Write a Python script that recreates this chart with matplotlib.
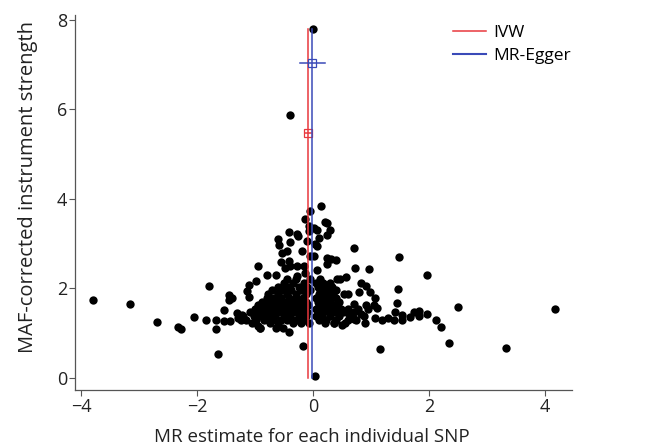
import matplotlib
matplotlib.use('Agg')
import matplotlib.pyplot as plt
from matplotlib.lines import Line2D

plt.rcParams['font.family'] = ['Open Sans', 'DejaVu Sans']

# puntos dispersos (estimacion MR por SNP, fuerza del instrumento)
outer_x = [-3.79, -3.15, -2.69, -2.32, -2.28, -2.06, -1.84, -1.80, -1.68, -1.64,
           -1.67, -1.54, -1.54, -1.45, -1.43, -1.45, -1.39, -1.31, -1.29, -1.25,
           -1.22, -1.14, -1.10, -1.10, -0.94, -0.98, -0.95, -0.92, -0.79, -0.64,
           -0.60, -0.58, -0.53, -0.41, -0.40, -0.44, -0.56, -0.39, -0.28, -0.26,
           -0.19, -0.13, -0.06, -0.07, -0.07, -0.10, -0.17, -0.42, -0.48, -0.42,
           -0.39, -0.28, -0.28, -0.16, -0.13, -0.06, 0.01, 0.07, 0.01, 0.13,
           0.11, 0.04, 0.07, 0.21, 0.24, 0.29, 0.24, 0.24, 0.31, 0.39,
           0.24, 0.07, 0.04, 0.00, 0.71, 0.72, 0.57, 0.46, 0.96, 0.82,
           0.91, 0.79, 0.98, 1.07, 0.54, 0.61, 1.49, 1.97, 1.46, 1.45,
           1.42, 1.53, 1.68, 1.74, 1.83, 1.83, 1.97, 2.12, 2.20, 2.50,
           2.34, 3.32, 4.17, 1.16, 1.19, 1.30, 1.39, 1.53, 1.07, 0.89,
           0.50, 0.36, 1.05, 1.10, 0.91, 0.70, 0.61, 0.82, 0.70]
outer_y = [1.73, 1.65, 1.24, 1.13, 1.09, 1.36, 1.29, 2.05, 1.09, 0.54,
           1.29, 1.51, 1.27, 1.74, 1.27, 1.84, 1.78, 1.44, 1.34, 1.28,
           1.39, 1.94, 2.07, 1.80, 2.50, 2.17, 1.15, 1.12, 2.29, 2.29,
           3.09, 2.96, 2.79, 3.26, 3.03, 2.83, 2.58, 5.86, 3.22, 3.17,
           2.83, 3.54, 3.72, 3.39, 3.28, 3.05, 0.71, 1.01, 2.46, 2.61,
           2.50, 2.50, 2.27, 2.50, 2.35, 2.72, 2.72, 3.31, 3.35, 3.84,
           3.13, 2.98, 2.94, 3.48, 3.45, 3.29, 3.18, 2.68, 2.66, 2.64,
           2.53, 2.41, 0.04, 7.80, 2.89, 2.46, 2.26, 2.21, 2.44, 2.11,
           2.05, 1.92, 1.92, 1.79, 1.86, 1.86, 2.70, 2.29, 1.99, 1.68,
           1.47, 1.39, 1.36, 1.47, 1.49, 1.38, 1.42, 1.30, 1.13, 1.59,
           0.77, 0.67, 1.53, 0.65, 1.29, 1.34, 1.30, 1.30, 1.34, 1.23,
           1.17, 1.23, 1.62, 1.56, 1.62, 1.64, 1.45, 1.42, 1.32]

# nucleo denso, por filas de fuerza del instrumento
core_rows = {
    1.12: [-0.92, -0.63, -0.52],
    1.22: [-1.05, -0.75, -0.60, -0.35, -0.20, -0.07, 0.20, 0.36, 0.55],
    1.30: [-1.15, -0.98, -0.85, -0.70, -0.55, -0.45, -0.30, -0.15, 0.10, 0.22, 0.40, 0.60, 0.75],
    1.38: [-1.20, -1.02, -0.90, -0.78, -0.65, -0.50, -0.40, -0.25, -0.12, 0.05, 0.15, 0.30, 0.45, 0.65, 0.88],
    1.46: [-1.08, -0.95, -0.82, -0.70, -0.60, -0.48, -0.35, -0.22, -0.10, 0.08, 0.18, 0.28, 0.38, 0.52, 0.70],
    1.54: [-1.00, -0.88, -0.75, -0.62, -0.52, -0.40, -0.28, -0.15, 0.05, 0.12, 0.25, 0.35, 0.48, 0.60, 0.78, 0.95],
    1.62: [-0.95, -0.82, -0.70, -0.58, -0.45, -0.33, -0.20, -0.08, 0.10, 0.20, 0.32, 0.42],
    1.70: [-0.88, -0.75, -0.62, -0.50, -0.38, -0.25, -0.12, 0.08, 0.18, 0.30, 0.45],
    1.78: [-0.80, -0.68, -0.55, -0.42, -0.30, -0.18, 0.05, 0.15, 0.28, 0.40],
    1.86: [-0.78, -0.60, -0.45, -0.30, -0.12, 0.10, 0.22, 0.35],
    1.95: [-0.70, -0.52, -0.38, -0.20, -0.05, 0.12, 0.25, 0.40],
    2.03: [-0.60, -0.42, -0.25, -0.10, 0.08, 0.20, 0.32],
    2.12: [-0.50, -0.35, -0.15, 0.05, 0.18, 0.30],
    2.20: [-0.45, -0.30, -0.05, 0.12, 0.42],
}

# estimaciones agregadas
ivw_est, ivw_ci, ivw_y = -0.08, (-0.13, -0.03), 5.46
egger_est, egger_ci, egger_y = -0.01, (-0.22, 0.20), 7.03
line_top = 7.8

xs = list(outer_x)
ys = list(outer_y)
for yy, row in core_rows.items():
    xs += row
    ys += [yy] * len(row)

fig = plt.figure(figsize=(6.6, 4.47), dpi=100)
ax = fig.add_axes([0.114, 0.128, 0.753, 0.838])

ax.scatter(xs, ys, s=36, color='black', linewidths=0, zorder=3)

red = '#e8383d'
blue = '#3a4ab8'
ax.plot([ivw_est, ivw_est], [0, line_top], color=red, lw=1.1, zorder=4)
ax.plot(list(ivw_ci), [ivw_y, ivw_y], color=red, lw=1.1, zorder=4)
ax.plot([ivw_est], [ivw_y], marker='s', ms=6, mfc='none', mec=red, mew=0.9, zorder=4)
ax.plot([egger_est, egger_est], [0, line_top], color=blue, lw=1.1, zorder=4)
ax.plot(list(egger_ci), [egger_y, egger_y], color=blue, lw=1.1, zorder=4)
ax.plot([egger_est], [egger_y], marker='s', ms=6, mfc='none', mec=blue, mew=0.9, zorder=4)

ax.set_xlim(-4.1, 4.47)
ax.set_ylim(-0.27, 8.1)
ax.set_xticks([-4, -2, 0, 2, 4])
ax.set_xticklabels(['\u22124', '\u22122', '0', '2', '4'])
ax.set_yticks([0, 2, 4, 6, 8])
for s in ['top', 'right']:
    ax.spines[s].set_visible(False)
for s in ['left', 'bottom']:
    ax.spines[s].set_color('#555555')
    ax.spines[s].set_linewidth(0.9)
ax.tick_params(labelsize=13, length=4, color='#555555', labelcolor='#222222', pad=2)

# etiquetas de ejes colocadas a mano como en la figura original
fig.text(312 / 660, 1 - 437 / 447, 'MR estimate for each individual SNP', fontsize=13.5,
         color='#222222', ha='center', va='center')
fig.text(28 / 660, 1 - 187 / 447, 'MAF-corrected instrument strength', fontsize=14.5,
         color='#222222', ha='center', va='center', rotation=90)

handles = [Line2D([], [], color=red, lw=1.1), Line2D([], [], color=blue, lw=1.5)]
ax.legend(handles, ['IVW', 'MR-Egger'], loc='upper right', frameon=False,
          fontsize=12.5, handlelength=1.9, handletextpad=0.4, labelspacing=0.4,
          borderaxespad=0.0, borderpad=0.1, bbox_to_anchor=(1.0, 0.978))

fig.savefig('out.png', dpi=100)
